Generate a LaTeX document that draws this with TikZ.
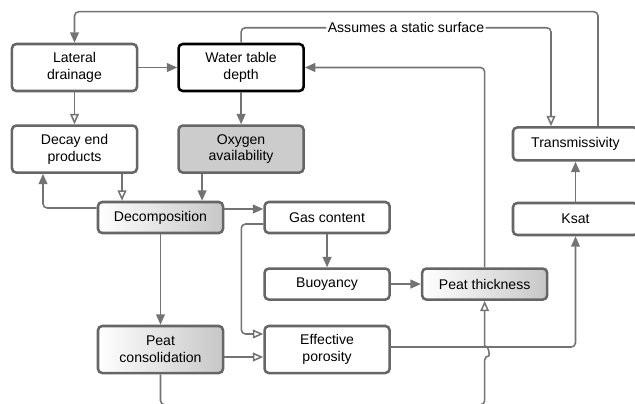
\documentclass[tikz,border=0pt]{standalone}
\usepackage{fontspec}
\setmainfont{Liberation Sans}
\usetikzlibrary{positioning,calc,arrows.meta,shadings}

\begin{document}
\begin{tikzpicture}[
    x=0.025cm, y=-0.025cm,
    node distance=0.8cm,
    basebox/.style={
      rectangle, rounded corners=3pt, line width=1.8pt, draw=black!60,
      align=center, minimum width=3.125cm, inner sep=2pt,
      font=\fontsize{10}{12}\selectfont
    },
    tallbox/.style={basebox, minimum height=1.175cm},
    flatbox/.style={basebox, minimum height=0.775cm},
    shadebox/.style={left color=white, middle color=white, right color=black!22},
    arr/.style={-{Triangle[length=2.6mm, width=2.2mm]}, line width=1.1pt,
                draw=black!55, rounded corners=3pt},
    arro/.style={-{Triangle[open, length=2.6mm, width=2.2mm]}, line width=1.1pt,
                 draw=black!55, rounded corners=3pt}
  ]
    \useasboundingbox (0,0) rectangle (635,403);

    % top rows
    \node[tallbox] (lat) at (74.5,67.5) {Lateral\\drainage};
    \node[tallbox, draw=black] (wtd) [right=0.975cm of lat] {Water table\\depth};
    \node[tallbox, below=of lat] (decay) {Decay end\\products};
    \node[tallbox, fill=black!20, below=of wtd] (oxy) {Oxygen\\availability};

    % middle
    \node[flatbox, shadebox] (decomp) at (160.5,217.5) {Decomposition};
    \node[flatbox, right=0.975cm of decomp] (gas) {Gas content};
    \node[flatbox, below=0.825cm of gas] (buoy) {Buoyancy};
    \node[flatbox, shadebox, right=0.75cm of buoy] (thick) {Peat thickness};
    \node[tallbox, shadebox] (cons) at (160.5,349.5) {Peat\\consolidation};
    \node[tallbox, right=0.975cm of cons] (poro) {Effective\\porosity};

    % right column
    \node[basebox, minimum height=0.8cm] (ksat) at (575.5,219) {Ksat};
    \node[basebox, minimum height=0.825cm, above=1cm of ksat] (trans) {Transmissivity};

    \draw[arr] ([xshift=0.5625cm]trans.north) |- ([yshift=0.775cm]lat.north) -- (lat.north);
    \draw[arro] (wtd.north) -- ([yshift=0.375cm]wtd.north) -| ([xshift=-0.6125cm]trans.north)
      node[pos=0.266, fill=white, inner sep=1pt, font=\fontsize{10}{12}\selectfont] (note) {Assumes a static surface};
    \draw[arr] (lat) -- (wtd);
    \draw[arro] (lat) -- (decay);
    \draw[arr] (wtd) -- (oxy);
    \draw[arr] ([xshift=-0.975cm]oxy.south) -- ([xshift=-0.975cm]oxy.south |- decomp.north);
    \draw[arro] ([xshift=1.1875cm]decay.south) -- ([xshift=1.1875cm]decay.south |- decomp.north);
    \draw[arr] ([yshift=0.2375cm]decomp.west) -| ([xshift=-0.7875cm]decay.south);
    \draw[arr] ([yshift=0.2125cm]decomp.east) -- ([yshift=0.2125cm]decomp.east -| gas.west);
    \draw[arro] ([yshift=-0.1625cm]gas.west) -- ([xshift=-0.55cm,yshift=-0.1625cm]gas.west)
      |- ([yshift=0.3875cm]poro.west);
    \draw[arr] (gas) -- (buoy);
    \draw[arr] (buoy) -- (thick);
    \draw[arr] (decomp) -- (cons);
    \draw[arro] ([yshift=-0.1875cm]cons.east) -- ([yshift=-0.1875cm]cons.east -| poro.west);
    \draw[arr] ([yshift=0.0625cm]poro.east) -| (ksat.south);
    \draw[arro] (cons.south) |- ([yshift=-2.6cm]thick.south) -- ([yshift=-1.375cm]thick.south)
      [sharp corners] .. controls +(0.12cm,0) and +(0.12cm,0) .. ([yshift=-1.125cm]thick.south)
      -- (thick.south);
    \draw[arr] (thick.north) |- (wtd.east);
    \draw[arr] (ksat) -- (trans);
  \end{tikzpicture}
\end{document}
